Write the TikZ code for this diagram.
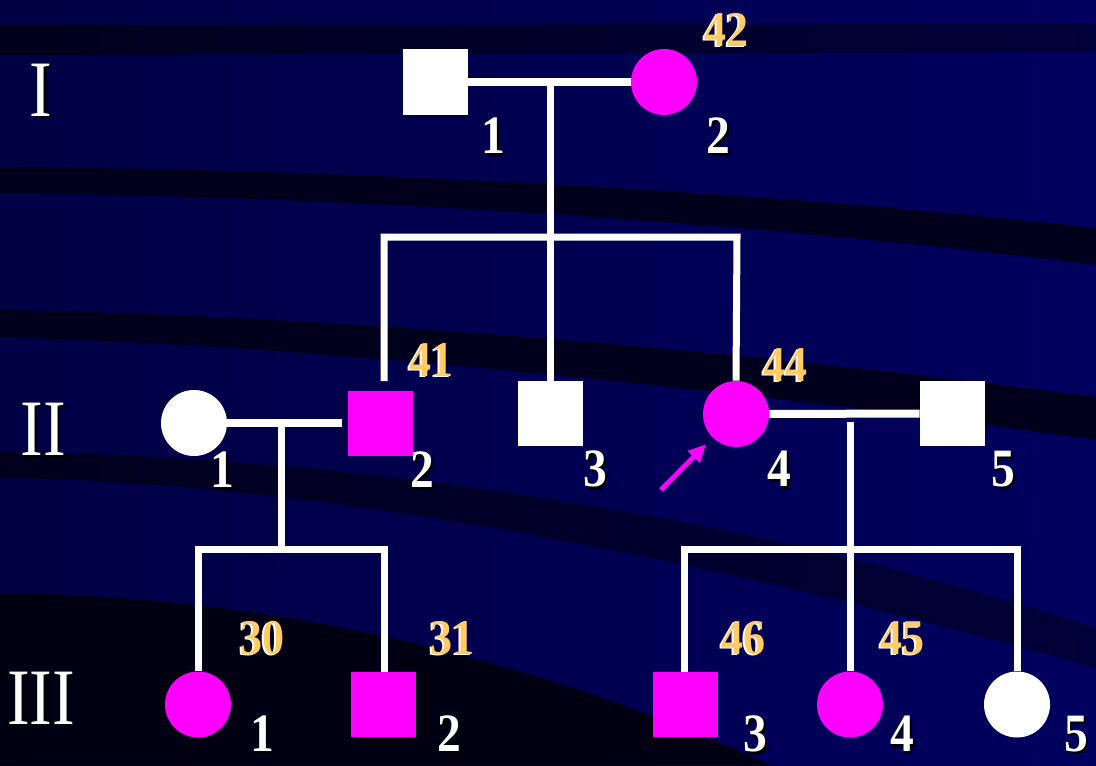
\documentclass[tikz,border=0pt]{standalone}
\usepackage{fontspec}
\setmainfont{Liberation Serif}
\usetikzlibrary{arrows.meta,calc}
\definecolor{bgL}{RGB}{0,0,68}
\definecolor{bgR}{RGB}{0,0,94}
\definecolor{stripe}{RGB}{0,0,28}
\definecolor{stripeR}{RGB}{0,0,56}
\definecolor{deep}{RGB}{0,0,18}
\definecolor{mag}{RGB}{255,0,255}
\definecolor{gold}{RGB}{255,204,102}
\newcommand\narrowtxt[1]{\scalebox{0.88}[1]{#1}}
\newcommand\wnum[3]{\node[numsh,xshift=1.2pt,yshift=-1.2pt] (#1s) at (#2) {\narrowtxt{#3}};\node[num] (#1) at (#2) {\narrowtxt{#3}};}
\newcommand\gnum[3]{\node[agesh,xshift=-1pt,yshift=-0.4pt] (#1s) at (#2) {\narrowtxt{#3}};\node[age] (#1) at (#2) {\narrowtxt{#3}};}
\newcommand\rnum[3]{\node[gensh,xshift=1.2pt,yshift=-1.2pt] (#1s) at (#2) {\scalebox{0.85}[1]{#3}};\node[gen] (#1) at (#2) {\scalebox{0.85}[1]{#3}};}
\begin{document}
\begin{tikzpicture}[x=0.5pt,y=-0.5pt,
  sq/.style={rectangle,minimum size=32.5pt,inner sep=0pt,draw=none},
  ci/.style={circle,minimum size=33pt,inner sep=0pt,draw=none},
  line/.style={draw=white,line width=3.5pt},
  mline/.style={draw=white,line width=4pt},
  num/.style={text=white,font=\fontsize{27}{27}\selectfont\bfseries,inner sep=0pt},
  numsh/.style={num,text=black},
  age/.style={text=gold,font=\fontsize{25}{25}\selectfont\bfseries,inner sep=0pt},
  agesh/.style={age,text=white},
  gen/.style={text=white,font=\fontsize{40}{40}\selectfont,inner sep=0pt},
  gensh/.style={gen,text=black},
  arr/.style={draw=mag,line width=2.5pt,-{Triangle[length=9pt,width=8pt]}}]
% background
\fill[left color=bgL,right color=bgR] (0,0) rectangle (1096,765);
\useasboundingbox (0,0) rectangle (1096,765);
\shade[left color=stripe,right color=stripeR] (0,25) -- (1096,24) -- (1096,52) -- (0,55) -- cycle;
\fill[stripe] (0,167) .. controls (400,170) and (800,195) .. (1096,228) -- (1096,265) .. controls (800,228) and (400,197) .. (0,193) -- cycle;
\fill[stripe] (0,310) .. controls (300,315) and (700,345) .. (1096,397) -- (1096,440) .. controls (700,385) and (300,345) .. (0,337) -- cycle;
\shade[left color=stripe,right color=stripeR] (0,452) .. controls (300,455) and (700,500) .. (1096,628) -- (1096,668) .. controls (700,555) and (300,480) .. (0,478) -- cycle;
\fill[deep] (0,593) .. controls (250,595) and (520,650) .. (770,765) -- (0,765) -- cycle;
% generation I
\node[sq,fill=white] (I1) at (435.5,82) {};
\node[ci,fill=mag] (I2) at (664,82) {};
% generation II
\node[ci,fill=white] (II1) at (194,423) {};
\node[sq,fill=mag] (II2) at (380.5,423) {};
\node[sq,fill=white] (II3) at (550,413.5) {};
\node[ci,fill=mag] (II4) at (736,414) {};
\node[sq,fill=white] (II5) at (952.5,413.5) {};
% generation III
\node[ci,fill=mag] (III1) at (198,704.5) {};
\node[sq,fill=mag] (III2) at (383.5,704.5) {};
\node[sq,fill=mag] (III3) at (685,704.5) {};
\node[ci,fill=mag] (III4) at (850,704.5) {};
\node[ci,fill=white] (III5) at (1017,704.5) {};
% coordinates
\coordinate (m1) at (550,82);
\coordinate (c1) at (550,237);
\coordinate (c1l) at (384,237);
\coordinate (c1r) at (737,237);
\coordinate (m2) at (281,424);
\coordinate (c2) at (281,549);
\coordinate (c2l) at (198,549);
\coordinate (c2r) at (384,549);
\coordinate (m3) at (850,414);
\coordinate (c3l) at (684,549);
\coordinate (c3r) at (1017,549);
\coordinate (arrS) at (661,490);
% connectors gen I
\draw[mline] (I1.east) -- (I2.west);
\draw[line] (m1) -- (c1) -- (II3.north);
\draw[line,shorten <=4.5pt] (II2.north -| c1l) -- (c1l) -- (c1r) -- (II4.north);
% connectors gen II
\draw[mline,shorten >=3pt] (II1.east) -- (II2.west);
\draw[line] (m2) -- (c2);
\draw[line] (III1.north) -- (c2l) -- (c2r) -- (III2.north -| c2r);
\draw[mline] (II4.east) -- (II5.west);
\draw[line,shorten <=4pt] (m3) -- (III4.north);
\draw[line] (III3.north -| c3l) -- (c3l) -- (c3r) -- (III5.north);
% proband arrow
\draw[arr,shorten >=4.5pt] (arrS) -- (II4);
% generation numerals
\rnum{gI}{41,90}{I}
\rnum{gII}{43,429}{II}
\rnum{gIII}{41,698}{III}
% individual numbers
\wnum{nI1}{493,136}{1}
\wnum{nI2}{718,136}{2}
\wnum{nII1}{222,470}{1}
\wnum{nII2}{422,470}{2}
\wnum{nII3}{595,469}{3}
\wnum{nII4}{779,469}{4}
\wnum{nII5}{1003,469}{5}
\wnum{nIII1}{262,734}{1}
\wnum{nIII2}{449,734}{2}
\wnum{nIII3}{755,734}{3}
\wnum{nIII4}{902,734}{4}
\wnum{nIII5}{1076,734}{5}
% ages
\gnum{aI2}{726,30}{42}
\gnum{aII2}{431,360}{41}
\gnum{aII4}{785,365}{44}
\gnum{aIII1}{262,638}{30}
\gnum{aIII2}{452,638}{31}
\gnum{aIII3}{743,638}{46}
\gnum{aIII4}{902,638}{45}
\end{tikzpicture}
\end{document}
